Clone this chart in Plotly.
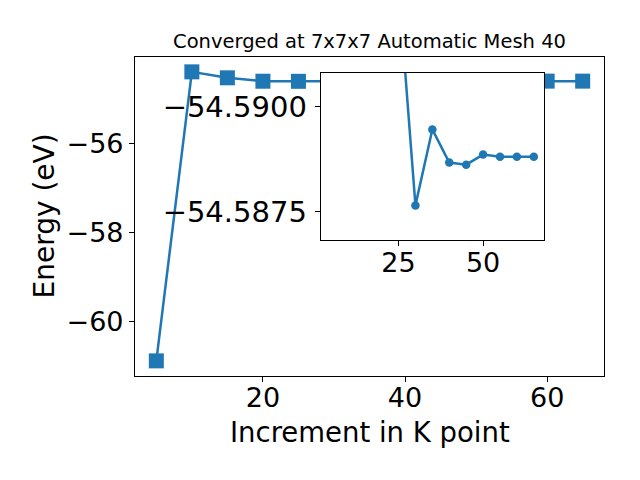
import plotly.graph_objects as go

kpoints = [5, 10, 15, 20, 25, 30, 35, 40, 45, 50, 55, 60, 65]
energy = [-60.894, -54.38, -54.514, -54.591, -54.5929, -54.58765, -54.58946,
          -54.58867, -54.58862, -54.58886, -54.58881, -54.58881, -54.58881]
inset_start = 4  # inset shows the points from 25 onward

main_xticks = [20, 40, 60]
main_yticks = [-60, -58, -56]
main_yticklabels = ["\u221260", "\u221258", "\u221256"]
inset_xticks = [25, 50]
inset_yticks = [-54.5900, -54.5875]
inset_yticklabels = ["\u221254.5900", "\u221254.5875"]

title = "Converged at 7x7x7 Automatic Mesh 40"
xlabel = "Increment in K point"
ylabel = "Energy (eV)"

color = "#1f77b4"
font = "DejaVu Sans"

fig = go.Figure()
fig.add_trace(go.Scatter(
    x=kpoints, y=energy, mode="lines+markers",
    line=dict(color=color, width=2.5),
    marker=dict(symbol="square", size=15, color=color),
    xaxis="x", yaxis="y", showlegend=False, cliponaxis=False,
))
fig.add_trace(go.Scatter(
    x=kpoints[inset_start:], y=energy[inset_start:], mode="lines+markers",
    line=dict(color=color, width=2.5),
    marker=dict(symbol="circle", size=8.5, color=color),
    xaxis="x2", yaxis="y2", showlegend=False,
))

axis_common = dict(
    showgrid=False, zeroline=False, showline=True, mirror=True,
    linecolor="black", linewidth=1.1, ticks="outside", ticklen=5,
    tickwidth=1.1, tickcolor="black", automargin=False,
)
tick_font = dict(family=font, size=27, color="black")
inset_tick_font = dict(family=font, size=29, color="black")

fig.update_layout(
    template="none",
    width=640, height=480,
    margin=dict(l=135, r=36, t=57, b=104, pad=0),
    paper_bgcolor="white", plot_bgcolor="white",
    xaxis=dict(domain=[0, 1], range=[2, 68], tickvals=main_xticks,
               anchor="y", tickfont=tick_font, ticklabelstandoff=-7,
               **axis_common),
    yaxis=dict(domain=[0, 1], range=[-61.235, -54.045], tickvals=main_yticks,
               ticktext=main_yticklabels, anchor="x", tickfont=tick_font,
               **axis_common),
    xaxis2=dict(domain=[0.396, 0.872], range=[2, 68], tickvals=inset_xticks,
                anchor="y2", tickfont=tick_font, ticklabelstandoff=-7,
                **axis_common),
    yaxis2=dict(domain=[0.4257, 0.9505], range=[-54.58682, -54.59081],
                tickvals=inset_yticks, ticktext=inset_yticklabels,
                anchor="x2", tickfont=inset_tick_font, ticklabelstandoff=2,
                **axis_common),
    title=dict(text=title, x=0.5, xanchor="center", xref="paper",
               y=1 - 41 / 480, yanchor="middle", yref="container",
               font=dict(family=font, size=19.5, color="black")),
    annotations=[
        dict(text=xlabel, xref="paper", yref="paper", x=0.5, y=-0.176,
             xanchor="center", yanchor="middle", showarrow=False,
             font=dict(family=font, size=27.5, color="black")),
        dict(text=ylabel, xref="paper", yref="paper", x=-0.194, y=0.5,
             xanchor="center", yanchor="middle", showarrow=False,
             textangle=-90, font=dict(family=font, size=28, color="black")),
    ],
)

fig.write_html("out.html", config={"displayModeBar": False},
               post_script="document.body.style.margin='0px';")
